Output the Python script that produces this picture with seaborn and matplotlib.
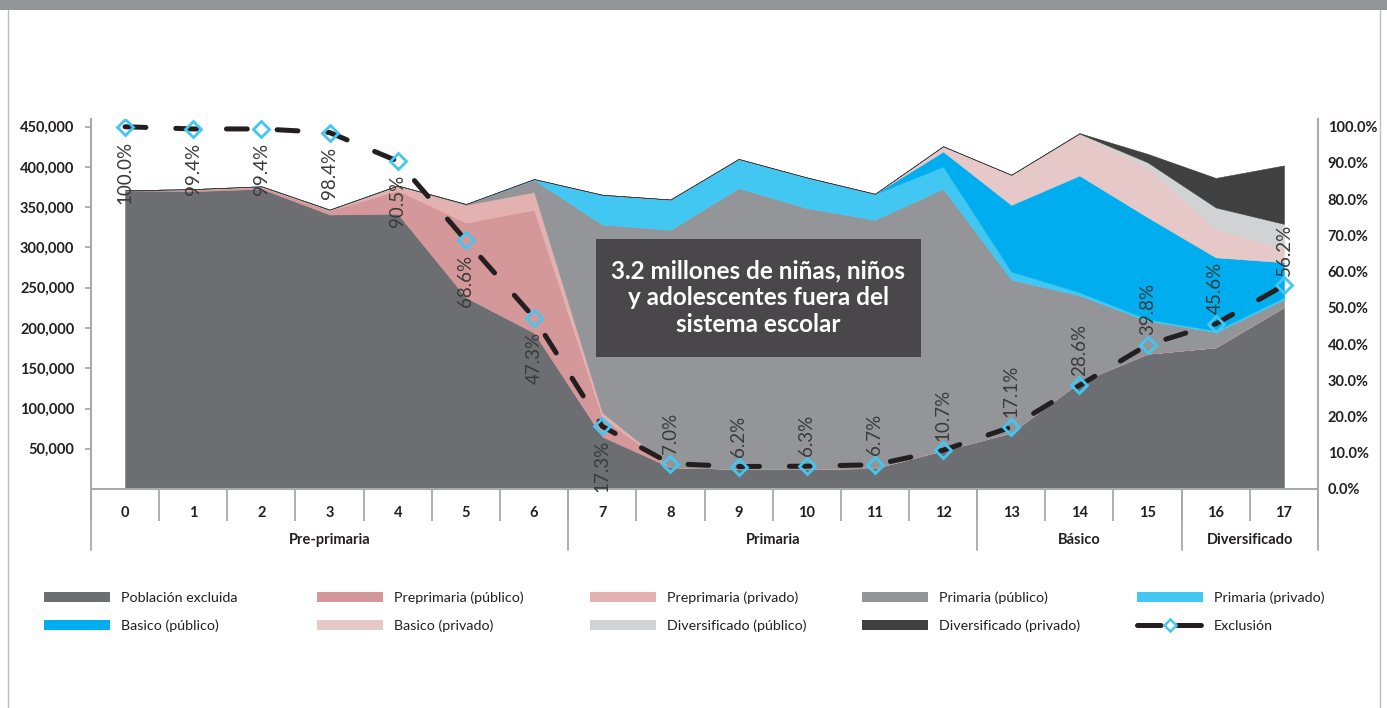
import numpy as np
import matplotlib
matplotlib.use('Agg')
import matplotlib.pyplot as plt
import matplotlib.transforms as mtransforms
from matplotlib.patches import Patch, Rectangle
from matplotlib.lines import Line2D
import seaborn as sns

# Datos: población por edad (0-17) y nivel, y porcentaje de exclusión
edades = list(range(18))
etiquetas_edad = [str(e) for e in edades]
niveles = ['Pre-primaria', 'Primaria', 'Básico', 'Diversificado']
edades_por_nivel = [7, 6, 3, 2]

poblacion_excluida = [371000, 370000, 373000, 341000, 342000, 238000, 194000, 65000, 27000,
                      25000, 25000, 26000, 48000, 70000, 133000, 168000, 176000, 226000]
preprimaria_pub = [0, 2000, 2000, 5000, 29000, 93000, 153000, 24000, 0,
                   0, 0, 0, 0, 0, 0, 0, 0, 0]
preprimaria_priv = [0, 500, 1000, 1000, 6000, 22000, 22000, 6000, 0,
                    0, 0, 0, 0, 0, 0, 0, 0, 0]
primaria_pub = [0, 0, 0, 0, 0, 1000, 15000, 233500, 295000,
                348700, 324000, 308400, 325000, 190000, 107400, 41000, 18800, 9400]
primaria_priv = [0, 0, 0, 0, 0, 0, 1000, 37000, 37600,
                 36300, 38000, 32300, 27600, 10200, 4100, 2000, 2000, 2600]
basico_pub = [0, 0, 0, 0, 0, 0, 0, 0, 0,
              0, 0, 0, 18700, 82800, 145000, 126600, 91000, 43700]
basico_priv = [0, 0, 0, 0, 0, 0, 0, 0, 0,
               0, 0, 0, 6500, 37300, 51600, 62000, 35000, 16700]
diversificado_pub = [0, 0, 0, 0, 0, 0, 0, 0, 0,
                     0, 0, 0, 0, 0, 500, 6300, 27000, 31000]
diversificado_priv = [0, 0, 0, 0, 0, 0, 0, 0, 0,
                      0, 0, 0, 0, 0, 500, 10400, 36600, 72500]
exclusion_pct = [100.0, 99.4, 99.4, 98.4, 90.5, 68.6, 47.3, 17.3, 7.0,
                 6.2, 6.3, 6.7, 10.7, 17.1, 28.6, 39.8, 45.6, 56.2]

series = [poblacion_excluida, preprimaria_pub, preprimaria_priv, primaria_pub, primaria_priv,
          basico_pub, basico_priv, diversificado_pub, diversificado_priv]
nombres = ['Población excluida', 'Preprimaria (público)', 'Preprimaria (privado)',
           'Primaria (público)', 'Primaria (privado)', 'Basico (público)', 'Basico (privado)',
           'Diversificado (público)', 'Diversificado (privado)', 'Exclusión']
colores = ['#6d6e71', '#d4989a', '#e3b1b0', '#939598', '#41c7f2',
           '#00aeef', '#e6c8c8', '#d1d2d4', '#404041']

# Estilo
sns.set_theme(style='white')
plt.rcParams['font.family'] = ['Lato', 'DejaVu Sans']
plt.rcParams['lines.scale_dashes'] = False

texto = '#231f20'
gris_eje = '#a7a9ac'

W, H = 1387, 708
fig = plt.figure(figsize=(W / 100, H / 100), dpi=100)
ax = fig.add_axes([91 / W, (H - 489) / H, (1318 - 91) / W, (489 - 118.7) / H])

polys = ax.stackplot(edades, *series, colors=colores, linewidth=0.4)
for p in polys:
    p.set_edgecolor(p.get_facecolor())

ax.set_xlim(-0.5, 17.5)
ax.set_ylim(0, 460000)
ax.set_yticks(range(50000, 450001, 50000))
ax.set_yticklabels([f'{v:,}' for v in range(50000, 450001, 50000)],
                   fontsize=10.5, fontweight='bold', color=texto)
ax.tick_params(axis='y', left=True, length=4, width=1.3, color=gris_eje, pad=8)

# Eje x como tabla: edades y niveles
ax.set_xticks(edades)
ax.set_xticklabels(etiquetas_edad, fontsize=10.5, fontweight='bold', color=texto)
ax.tick_params(axis='x', which='major', bottom=True, length=0, pad=12)
ax.set_xticks(np.arange(-0.5, len(edades), 1), minor=True)
ax.tick_params(axis='x', which='minor', bottom=True, length=23, width=1.3,
               color=gris_eje, direction='out')

trans = mtransforms.blended_transform_factory(ax.transData, ax.transAxes)
limites = np.concatenate([[-0.5], np.cumsum(edades_por_nivel) - 0.5])
for b in limites:
    ax.plot([b, b], [0, -0.165], transform=trans, color=gris_eje, lw=1.3, clip_on=False)
inicio = -0.5
for nivel, n in zip(niveles, edades_por_nivel):
    ax.text(inicio + n / 2, -0.138, nivel, transform=trans, ha='center', va='center',
            fontsize=10.5, fontweight='bold', color=texto)
    inicio += n

for s in ['top', 'right']:
    ax.spines[s].set_visible(False)
for s in ['left', 'bottom']:
    ax.spines[s].set_color(gris_eje)
    ax.spines[s].set_linewidth(1.5)

# Eje secundario: exclusión
ax2 = ax.twinx()
excl = [v / 100 for v in exclusion_pct]
sns.lineplot(x=edades, y=excl, ax=ax2, color=texto, linewidth=3.6, marker='D',
             markersize=8, markerfacecolor='none', markeredgecolor='#41c7f2',
             markeredgewidth=2)
linea = ax2.get_lines()[0]
linea.set_linestyle((0, (15, 21.5)))
linea.set_dash_capstyle('round')

ax2.set_ylim(0, 460000 / 450000)
ax2.set_xlim(-0.5, 17.5)
ax2.set_yticks(np.arange(0, 1.01, 0.1))
ax2.set_yticklabels([f'{v:.1%}' for v in np.arange(0, 1.01, 0.1)],
                    fontsize=10.5, fontweight='bold', color=texto)
ax2.tick_params(axis='y', right=True, length=0, pad=7)
ax2.set_ylabel('')
for s in ['top', 'left', 'bottom']:
    ax2.spines[s].set_visible(False)
ax2.spines['right'].set_color(gris_eje)
ax2.spines['right'].set_linewidth(1.5)

for e, v, p in zip(edades, excl, exclusion_pct):
    abajo = e <= 7
    ax2.annotate(f'{p:.1f}%', (e, v), xytext=(0, -10 if abajo else 7),
                 textcoords='offset points', rotation=90, ha='center',
                 va='top' if abajo else 'bottom', fontsize=13.5, color='#3a3a3a')

# Recuadro de texto
ax2.add_patch(Rectangle((0.4116, 0.3565), 0.2648, 0.3185, transform=ax2.transAxes,
                        facecolor='#49474a', edgecolor='none', zorder=5))
ax2.text(0.544, 0.516, '3.2 millones de niñas, niños\ny adolescentes fuera del\nsistema escolar',
         transform=ax2.transAxes, ha='center', va='center', fontsize=17.5,
         fontweight='bold', color='white', linespacing=1.2, zorder=6)

# Marco y barra superior
fig.add_artist(Rectangle((0, 698 / H), 1, 10 / H, transform=fig.transFigure,
                         facecolor='#939598', edgecolor='none'))
for xb in [8, 1380]:
    fig.add_artist(Line2D([xb / W, xb / W], [0, 698 / H], transform=fig.transFigure,
                          color='#bcbec0', lw=1))

# Leyenda en 5 columnas
handles = [Patch(facecolor=c, edgecolor='none') for c in colores]
handles.append(Line2D([], [], color=texto, lw=3.6, linestyle=(0, (17, 12)),
                      dash_capstyle='round', marker='D', markersize=6,
                      markerfacecolor='none', markeredgecolor='#41c7f2', markeredgewidth=1.8))
col_x = [44, 317, 590, 862, 1137]
for c, x0 in enumerate(col_x):
    fig.legend(handles=[handles[c], handles[c + 5]], labels=[nombres[c], nombres[c + 5]],
               loc='center left', bbox_to_anchor=(x0 / W, 1 - 612 / H), frameon=False,
               borderpad=0, borderaxespad=0, handlelength=4.6, handleheight=0.7,
               handletextpad=0.75, labelspacing=1.1, fontsize=10.3, labelcolor=texto)

fig.savefig('out.png', dpi=100)
